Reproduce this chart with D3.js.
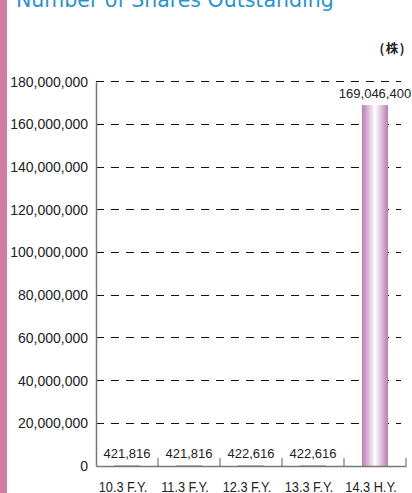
<!DOCTYPE html>
<html><head><meta charset="utf-8">
<script src="https://cdn.jsdelivr.net/npm/d3@7"></script>
<style>body{margin:0;background:#fff;overflow:hidden}</style>
</head><body>
<script>
const categories = ["10.3 F.Y.", "11.3 F.Y.", "12.3 F.Y.", "13.3 F.Y.", "14.3 H.Y."];
const values = [421816, 421816, 422616, 422616, 169046400];
const yTicks = [0, 20000000, 40000000, 60000000, 80000000, 100000000, 120000000, 140000000, 160000000, 180000000];
const title = "Number of Shares Outstanding";
const unit = "(株)";

const W = 412, H = 493;
const svg = d3.select("body").append("svg").attr("width", W).attr("height", H);

// left accent strip
svg.append("rect").attr("x", 0).attr("y", 0).attr("width", 7).attr("height", H).attr("fill", "#cf7ca0");

svg.append("text").attr("x", 16).attr("y", 7)
  .attr("font-family", "DejaVu Sans").attr("font-size", 20.5).attr("fill", "#2a93d0").text(title);

svg.append("text").attr("x", 406).attr("y", 53).attr("text-anchor", "end")
  .attr("font-family", "Noto Sans CJK JP").attr("font-weight", 700).attr("font-size", 12.5)
  .attr("letter-spacing", 1.5).attr("fill", "#222").text(unit);

const xb = d3.scaleBand().domain(categories).range([96, 406]);
const y = d3.scaleLinear().domain([0, 180000000]).range([466, 81.7]);

const defs = svg.append("defs");
const g = defs.append("linearGradient").attr("id", "barg").attr("x1", "0").attr("x2", "1").attr("y1", "0").attr("y2", "0");
g.append("stop").attr("offset", "0%").attr("stop-color", "#b97cb3");
g.append("stop").attr("offset", "50%").attr("stop-color", "#ffffff");
g.append("stop").attr("offset", "100%").attr("stop-color", "#b97cb3");

// gridlines
svg.append("g").selectAll("line").data(yTicks.filter(d => d > 0)).join("line")
  .attr("x1", 96).attr("x2", 401).attr("y1", d => y(d)).attr("y2", d => y(d))
  .attr("stroke", "#111").attr("stroke-width", 1).attr("stroke-dasharray", "8,7")
  .attr("shape-rendering", "crispEdges");

// bars
svg.append("g").selectAll("rect").data(values).join("rect")
  .attr("x", (d, i) => xb(categories[i]) + (xb.bandwidth() - 26) / 2)
  .attr("width", 26)
  .attr("y", d => Math.min(y(d), y(0) - 1))
  .attr("height", d => Math.max(y(0) - y(d), 1))
  .attr("fill", d => (y(0) - y(d) < 2 ? "#bbbbbb" : "url(#barg)"));

// y axis
const yAxis = svg.append("g").attr("transform", "translate(96,0)")
  .call(d3.axisLeft(y).tickValues(yTicks).tickSize(0).tickPadding(8).tickFormat(d3.format(",")));
yAxis.select(".domain").attr("stroke", "#777").attr("stroke-width", 1.5);
yAxis.selectAll("text").attr("font-family", "Liberation Sans").attr("font-size", 14).attr("fill", "#222");

// x axis
const xAxis = svg.append("g").attr("transform", "translate(0,466)")
  .call(d3.axisBottom(xb).tickSize(0).tickPadding(16));
xAxis.select(".domain").attr("stroke", "#777").attr("stroke-width", 1.5);
xAxis.selectAll("text").attr("font-family", "Liberation Sans").attr("font-size", 14.5).attr("fill", "#222")
  .attr("dx", -4.5).attr("transform", "scale(0.88,1)");
// category separators (ticks between bands, pointing up)
svg.append("g").selectAll("line").data(categories).join("line")
  .attr("x1", d => xb(d) + xb.bandwidth()).attr("x2", d => xb(d) + xb.bandwidth())
  .attr("y1", 466).attr("y2", 458).attr("stroke", "#777").attr("stroke-width", 1.2);

// value labels
svg.append("g").selectAll("text").data(values).join("text")
  .attr("x", (d, i) => xb(categories[i]) + xb.bandwidth() / 2)
  .attr("y", d => Math.min(y(d), y(0)) - 7.5)
  .attr("text-anchor", "middle")
  .attr("font-family", "Liberation Sans").attr("font-size", 13).attr("fill", "#222")
  .text(d => d3.format(",")(d));
</script>
</body></html>
